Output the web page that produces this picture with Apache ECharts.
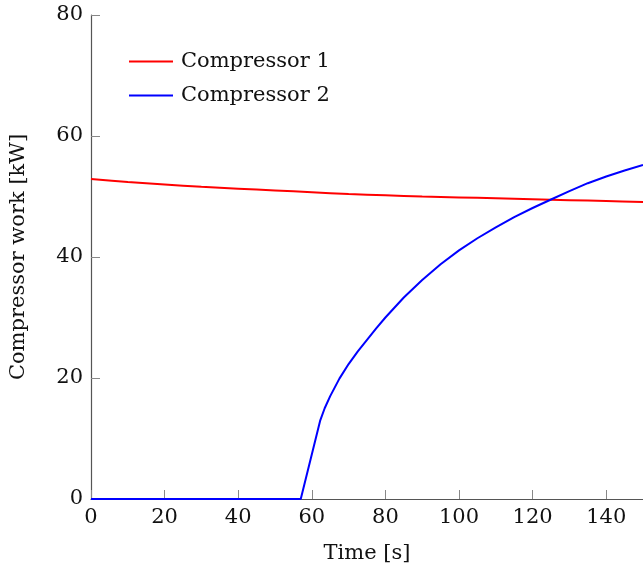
<!DOCTYPE html>
<html>
<head>
<meta charset="utf-8">
<script src="https://cdn.jsdelivr.net/npm/echarts@6/dist/echarts.min.js"></script>
<style>
  html, body { margin: 0; padding: 0; background: #fff; }
  #chart { width: 643px; height: 574px; }
</style>
</head>
<body>
<div id="chart"></div>
<script>
// valores
const timeC1 = [0, 10, 20, 30, 40, 50, 60, 70, 80, 90, 100, 110, 120, 130, 140, 150];
const workC1 = [52.9, 52.4, 52.0, 51.6, 51.3, 51.0, 50.7, 50.4, 50.2, 50.0, 49.85, 49.7, 49.55, 49.4, 49.25, 49.1];

const timeC2 = [0, 57, 62.3, 63.5, 65, 67.5, 70, 72.5, 75, 77.5, 80, 85, 90, 95, 100, 105, 110, 115, 120, 125, 130, 135, 140, 145, 150];
const workC2 = [0, 0, 13.0, 15.0, 17.0, 19.9, 22.3, 24.4, 26.3, 28.2, 30.0, 33.3, 36.2, 38.8, 41.1, 43.1, 44.9, 46.6, 48.1, 49.5, 50.9, 52.2, 53.3, 54.3, 55.2];

const seriesNames = ['Compressor 1', 'Compressor 2'];
const xTicks = [0, 20, 40, 60, 80, 100, 120, 140];
const yTicks = [0, 20, 40, 60, 80];

const font = 'DejaVu Serif';
const fs = 21;

const pairs = (xs, ys) => xs.map((x, i) => [x, ys[i]]);

const chart = echarts.init(document.getElementById('chart'));

const axisCommon = {
    axisLine: { show: true, lineStyle: { color: '#555', width: 1.2 } },
    axisTick: { show: true, inside: true, length: 9, lineStyle: { color: '#888', width: 1 } },
    splitLine: { show: false },
    axisLabel: { color: '#111', fontFamily: font, fontSize: fs },
    nameTextStyle: { color: '#111', fontFamily: font, fontSize: fs }
};

chart.setOption({
    animation: false,
    backgroundColor: '#fff',
    grid: { left: 91, top: 15, right: -3, bottom: 75, containLabel: false },
    legend: {
        orient: 'vertical',
        left: 124,
        top: 46,
        icon: 'rect',
        itemWidth: 44,
        itemHeight: 2,
        itemGap: 13,
        textStyle: { color: '#111', fontFamily: font, fontSize: fs, padding: [0, 0, 0, 3] },
        data: seriesNames
    },
    xAxis: Object.assign({}, axisCommon, {
        type: 'value',
        min: xTicks[0],
        max: 150,
        interval: 20,
        name: 'Time [s]',
        nameLocation: 'middle',
        nameGap: 44,
        axisLabel: Object.assign({}, axisCommon.axisLabel, { showMaxLabel: false, margin: 8 })
    }),
    yAxis: Object.assign({}, axisCommon, {
        type: 'value',
        min: yTicks[0],
        max: yTicks[yTicks.length - 1],
        interval: 20,
        name: 'Compressor work [kW]',
        nameLocation: 'middle',
        nameGap: 62,
        axisLabel: Object.assign({}, axisCommon.axisLabel, { margin: 8 })
    }),
    series: [
        {
            name: seriesNames[0],
            type: 'line',
            data: pairs(timeC1, workC1),
            smooth: 0.3,
            showSymbol: false,
            lineStyle: { color: '#ff0000', width: 2 },
            itemStyle: { color: '#ff0000' }
        },
        {
            name: seriesNames[1],
            type: 'line',
            data: pairs(timeC2, workC2),
            smooth: false,
            showSymbol: false,
            lineStyle: { color: '#0000ff', width: 2 },
            itemStyle: { color: '#0000ff' }
        }
    ]
});
</script>
</body>
</html>
